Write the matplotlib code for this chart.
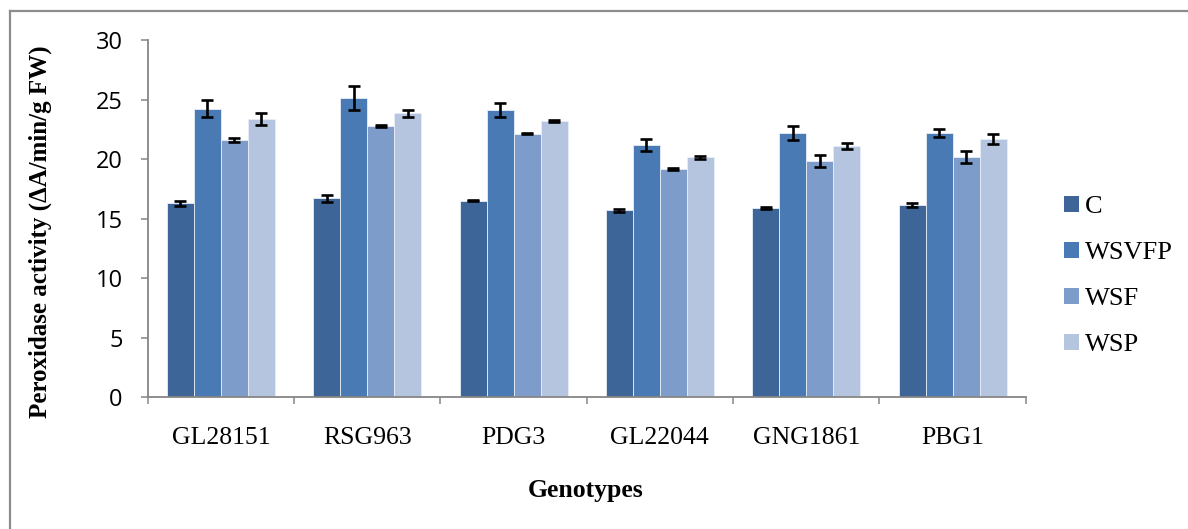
import numpy as np
import matplotlib
matplotlib.use("Agg")
import matplotlib.pyplot as plt
from matplotlib.lines import Line2D
from matplotlib.patches import Patch

# peroxidase activity per genotype and treatment, mean and error
genotypes = ["GL28151", "RSG963", "PDG3", "GL22044", "GNG1861", "PBG1"]
treatments = ["C", "WSVFP", "WSF", "WSP"]

c_vals = [16.3, 16.7, 16.5, 15.7, 15.9, 16.15]
c_err = [0.2, 0.3, 0.05, 0.15, 0.05, 0.2]
wsvfp_vals = [24.25, 25.1, 24.1, 21.15, 22.2, 22.2]
wsvfp_err = [0.7, 1.0, 0.6, 0.5, 0.6, 0.35]
wsf_vals = [21.6, 22.75, 22.15, 19.2, 19.85, 20.15]
wsf_err = [0.15, 0.08, 0.08, 0.08, 0.5, 0.5]
wsp_vals = [23.4, 23.85, 23.2, 20.15, 21.1, 21.7]
wsp_err = [0.5, 0.3, 0.05, 0.15, 0.25, 0.45]

series = [c_vals, wsvfp_vals, wsf_vals, wsp_vals]
errors = [c_err, wsvfp_err, wsf_err, wsp_err]
colors = ["#3d6597", "#4a7ab4", "#7e9cc9", "#b5c4df"]

serif = "Liberation Serif"
grey = "#868686"

fig = plt.figure(figsize=(11.88, 5.29), dpi=100)
ax = fig.add_axes([0.1243, 0.2486, 0.7391, 0.6758])

x = np.arange(len(genotypes))
w = 0.1845
for i, (vals, err, col) in enumerate(zip(series, errors, colors)):
    ax.bar(x + (i - 1.5) * w, vals, w, color=col, edgecolor="#e8eef7",
           linewidth=0.6, zorder=2)
    ax.errorbar(x + (i - 1.5) * w, vals, yerr=err, fmt="none", ecolor="black",
                elinewidth=1.9, capsize=4.2, capthick=1.9, zorder=3)

ax.set_xlim(-0.5, len(genotypes) - 0.5)
ax.set_ylim(0, 30)
ax.set_yticks(range(0, 31, 5))
ax.set_xticks(x)
ax.set_xticklabels(genotypes, fontfamily=serif, fontsize=18.5)
ax.set_xticks(np.arange(-0.5, len(genotypes)), minor=True)
ax.tick_params(axis="x", which="major", length=0, pad=21)
ax.tick_params(axis="x", which="minor", length=5, width=1.1, color=grey,
               direction="out")
ax.tick_params(axis="y", length=5, width=1.1, color=grey, pad=13,
               labelsize=17)
for lab in ax.get_yticklabels():
    lab.set_fontfamily("Open Sans")

for side in ["top", "right"]:
    ax.spines[side].set_visible(False)
for side in ["left", "bottom"]:
    ax.spines[side].set_color(grey)
    ax.spines[side].set_linewidth(1.3)

fig.text(40 / 1188, 1 - 232 / 529, "Peroxidase activity (ΔA/min/g FW)",
         rotation=90, ha="center", va="center", fontfamily=serif,
         fontweight="bold", fontsize=18)
fig.text(586 / 1188, 1 - 490 / 529, "Genotypes", ha="center", va="center",
         fontfamily=serif, fontweight="bold", fontsize=18.5)

handles = [Patch(facecolor=c, edgecolor="none") for c in colors]
fig.legend(handles, treatments, loc="upper left",
           bbox_to_anchor=(1064 / 1188, 1 - 196 / 529), frameon=False,
           prop={"family": serif, "size": 19}, handlelength=0.55,
           handleheight=0.55, handletextpad=0.25, labelspacing=0.9,
           borderpad=0, borderaxespad=0)

# outer frame around the chart
fig.add_artist(Line2D([10 / 1188, 1.0], [1 - 11 / 529, 1 - 11 / 529],
                      color="#8c8c8c", linewidth=1.6))
fig.add_artist(Line2D([10 / 1188, 10 / 1188], [0.0, 1 - 11 / 529],
                      color="#8c8c8c", linewidth=1.6))

fig.savefig("out.png", dpi=100)
